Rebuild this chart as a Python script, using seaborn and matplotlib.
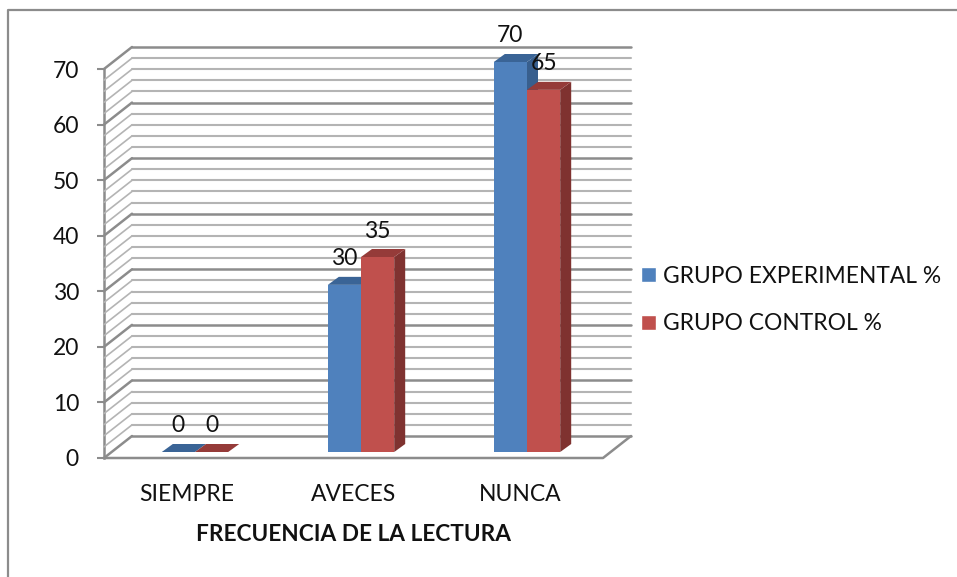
import matplotlib
matplotlib.use("Agg")
import matplotlib.pyplot as plt
from matplotlib.lines import Line2D
from matplotlib.patches import Polygon, Rectangle
from matplotlib.transforms import IdentityTransform
import pandas as pd
import seaborn as sns

categories = ["SIEMPRE", "AVECES", "NUNCA"]
series_names = ["GRUPO EXPERIMENTAL %", "GRUPO CONTROL %"]
experimental = [0, 30, 70]
control = [0, 35, 65]
y_ticks = [0, 10, 20, 30, 40, 50, 60, 70]
x_title = "FRECUENCIA DE LA LECTURA"

W, H = 957, 577
DX, DY = 28, 22      # depth of the chart box, px
BX, BY = 11, 8       # depth of a bar, px
colors = ["#4F81BD", "#C0504D"]
tops = ["#3A6496", "#953B39"]
sides = ["#385F8E", "#7F3230"]
ink = "#111111"


def axes_px(left, right, bottom, top):
    # bottom and top counted from the top of the image
    return fig.add_axes([left / W, 1 - bottom / H, (right - left) / W, (bottom - top) / H])


sns.set_theme(style="white")
plt.rcParams["font.family"] = ["Lato", "DejaVu Sans"]

df = pd.DataFrame({
    "cat": categories * 2,
    "val": experimental + control,
    "serie": [series_names[0]] * 3 + [series_names[1]] * 3,
})

fig = plt.figure(figsize=(W / 100, H / 100), dpi=100)
idt = IdentityTransform()

# only the top and left edges of the chart frame are in the picture
fig.add_artist(Line2D([8, 8, W], [0, H - 10, H - 10], transform=idt, color="#8C8C8C", lw=1.6))

# box: ticks and labels
ax = axes_px(104, 603, 458, 69)
ax.set_xlim(-0.5, 2.5)
ax.set_ylim(0, 70)
ax.patch.set_alpha(0)
ax.set_xticks(range(3))
ax.set_xticklabels(categories, fontsize=16.5, color=ink)
ax.set_yticks(y_ticks)
ax.set_yticklabels(y_ticks, fontsize=16.5, color=ink)
ax.tick_params(axis="y", length=5, width=1.5, color="#8C8C8C", left=True, pad=13)
ax.tick_params(axis="x", length=0, pad=18.5)
ax.set_xlabel(x_title, fontsize=16.3, fontweight="bold", color=ink, labelpad=14)
for name in ["top", "right", "bottom"]:
    ax.spines[name].set_visible(False)
ax.spines["left"].set_color("#8C8C8C")
ax.spines["left"].set_linewidth(1.8)

for v in range(0, 71, 2):
    x0, y0 = ax.transData.transform((-0.5, v))
    x1, y1 = ax.transData.transform((2.5, v))
    major = v % 10 == 0
    col = "#8C8C8C" if major else "#B4B4B4"
    lw = 1.8 if major else 1.5
    fig.add_artist(Line2D([x0, x0 + DX], [y0, y0 + DY], transform=idt, color=col, lw=lw if major else 1.2))
    fig.add_artist(Line2D([x0 + DX, x1 + DX], [y0 + DY, y1 + DY], transform=idt, color=col, lw=lw))
x0, y0 = ax.transData.transform((-0.5, 0))
x1, y1 = ax.transData.transform((2.5, 0))
fig.add_artist(Line2D([x0, x1, x1 + DX], [y0, y1, y1 + DY], transform=idt, color="#8C8C8C", lw=1.8))

# bars, sitting a bit inside the box floor
bar_ax = axes_px(112, 610, 452, 62)
bar_ax.patch.set_alpha(0)
sns.barplot(data=df, x="cat", y="val", hue="serie", palette=colors, width=0.4, gap=0, dodge=True,
            saturation=1, legend=False, ax=bar_ax)
bar_ax.set_xlim(-0.5, 2.5)
bar_ax.set_ylim(0, 70)
bar_ax.axis("off")

for i, cont in enumerate(bar_ax.containers):
    for k, p in enumerate(cont.patches):
        xa, ya = bar_ax.transData.transform((p.get_x(), p.get_y()))
        xb, yb = bar_ax.transData.transform((p.get_x() + p.get_width(), p.get_y() + p.get_height()))
        fig.add_artist(Polygon([(xb, ya), (xb + BX, ya + BY), (xb + BX, yb + BY), (xb, yb)],
                               transform=idt, facecolor=sides[i], edgecolor="none", zorder=4 + k))
        fig.add_artist(Polygon([(xa, yb), (xb, yb), (xb + BX, yb + BY), (xa + BX, yb + BY)],
                               transform=idt, facecolor=tops[i], edgecolor="none", zorder=4 + k))
        if p.get_height() > 0:
            fig.add_artist(Rectangle((xa, ya), xb - xa, yb - ya, transform=idt, facecolor=colors[i],
                                     edgecolor="none", zorder=5 + k))
        fig.text((xa + xb) / 2 / W, (yb + BY + 18) / H, str(int(p.get_height())), ha="center", va="center",
                 fontsize=16.5, color=ink, zorder=9)

handles = [Rectangle((0, 0), 1, 1, facecolor=c) for c in colors]
fig.legend(handles, series_names, loc="center left", bbox_to_anchor=(641 / W, 1 - 300 / H), frameon=False,
           fontsize=16.4, handlelength=0.66, handleheight=0.66, handletextpad=0.3, labelspacing=1.18,
           labelcolor=ink, borderpad=0, borderaxespad=0)

fig.savefig("out.png", dpi=100, facecolor="white")
